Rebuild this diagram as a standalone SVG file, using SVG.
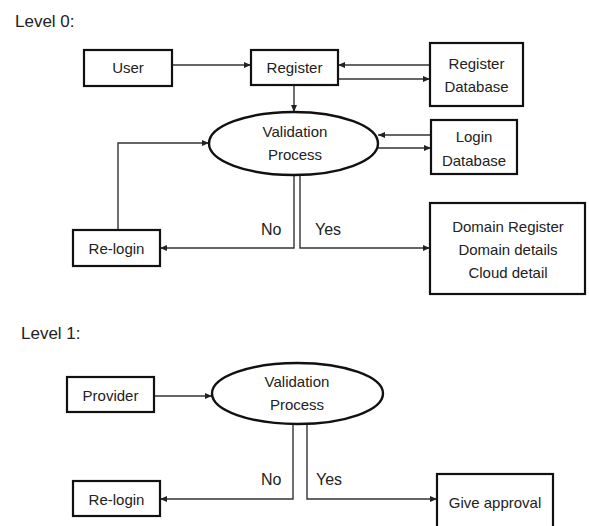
<svg xmlns="http://www.w3.org/2000/svg" width="589" height="526" viewBox="0 0 589 526">
<style>
  .box { fill: #fff; stroke: #111; stroke-width: 2.2; }
  .ell { fill: #fff; stroke: #111; stroke-width: 2.4; }
  .t { font-family: "Liberation Sans", Arial, sans-serif; font-size: 15px; fill: #222; text-anchor: middle; }
  .lbl { font-family: "Liberation Sans", Arial, sans-serif; font-size: 16px; fill: #222; }
  .title { font-family: "Liberation Sans", Arial, sans-serif; font-size: 17px; fill: #222; }
  .c { fill: none; stroke: #333; stroke-width: 1.4; marker-end: url(#ah); }
</style>
<defs>
  <marker id="ah" markerUnits="userSpaceOnUse" markerWidth="8" markerHeight="8" refX="7" refY="4" orient="auto">
    <path d="M0,1 L7,4 L0,7 Z" fill="#222"/>
  </marker>
</defs>

<text class="title" x="15" y="27">Level 0:</text>
<text class="title" x="21" y="339">Level 1:</text>

<g id="connectors">
  <path class="c" d="M172,65 H251"/>
  <path class="c" d="M430,65 H338"/>
  <path class="c" d="M338,79 H430"/>
  <path class="c" d="M294,85 V112"/>
  <path class="c" d="M431,135 H378"/>
  <path class="c" d="M377,148 H431"/>
  <path class="c" d="M294,175 V248 H160"/>
  <path class="c" d="M300,175 V248 H430"/>
  <path class="c" d="M118,230 V143 H209"/>
  <path class="c" d="M154,396 H212"/>
  <path class="c" d="M293,424 V499 H160"/>
  <path class="c" d="M307,424 V499 H437"/>
  <text class="lbl" x="261" y="235">No</text>
  <text class="lbl" x="315" y="235">Yes</text>
  <text class="lbl" x="261" y="485">No</text>
  <text class="lbl" x="316" y="485">Yes</text>
</g>

<g id="user">
  <rect class="box" x="84" y="50" width="88" height="36"/>
  <text class="t" x="128" y="73">User</text>
</g>
<g id="register">
  <rect class="box" x="251" y="50" width="87" height="35"/>
  <text class="t" x="294.5" y="73">Register</text>
</g>
<g id="register-db">
  <rect class="box" x="430" y="43" width="93" height="63"/>
  <text class="t" x="476.5" y="69">Register</text>
  <text class="t" x="476.5" y="92">Database</text>
</g>
<g id="validation0">
  <ellipse class="ell" cx="293.5" cy="143.5" rx="84.5" ry="31.5"/>
  <text class="t" x="295" y="137">Validation</text>
  <text class="t" x="295" y="160">Process</text>
</g>
<g id="login-db">
  <rect class="box" x="431" y="120" width="86" height="54"/>
  <text class="t" x="474" y="142">Login</text>
  <text class="t" x="474" y="166">Database</text>
</g>
<g id="relogin0">
  <rect class="box" x="73" y="230" width="87" height="36"/>
  <text class="t" x="116.5" y="254">Re-login</text>
</g>
<g id="domain">
  <rect class="box" x="430" y="203" width="155" height="91"/>
  <text class="t" x="508" y="232">Domain Register</text>
  <text class="t" x="508" y="255">Domain details</text>
  <text class="t" x="508" y="278">Cloud detail</text>
</g>

<g id="provider">
  <rect class="box" x="67" y="377" width="87" height="35"/>
  <text class="t" x="110.5" y="401">Provider</text>
</g>
<g id="validation1">
  <ellipse class="ell" cx="297.5" cy="393.5" rx="85.5" ry="30.5"/>
  <text class="t" x="297" y="387">Validation</text>
  <text class="t" x="297" y="410">Process</text>
</g>
<g id="relogin1">
  <rect class="box" x="73" y="481" width="87" height="35"/>
  <text class="t" x="116.5" y="505">Re-login</text>
</g>
<g id="approval">
  <rect class="box" x="437" y="474" width="116" height="60"/>
  <text class="t" x="495" y="508">Give approval</text>
</g>
</svg>
